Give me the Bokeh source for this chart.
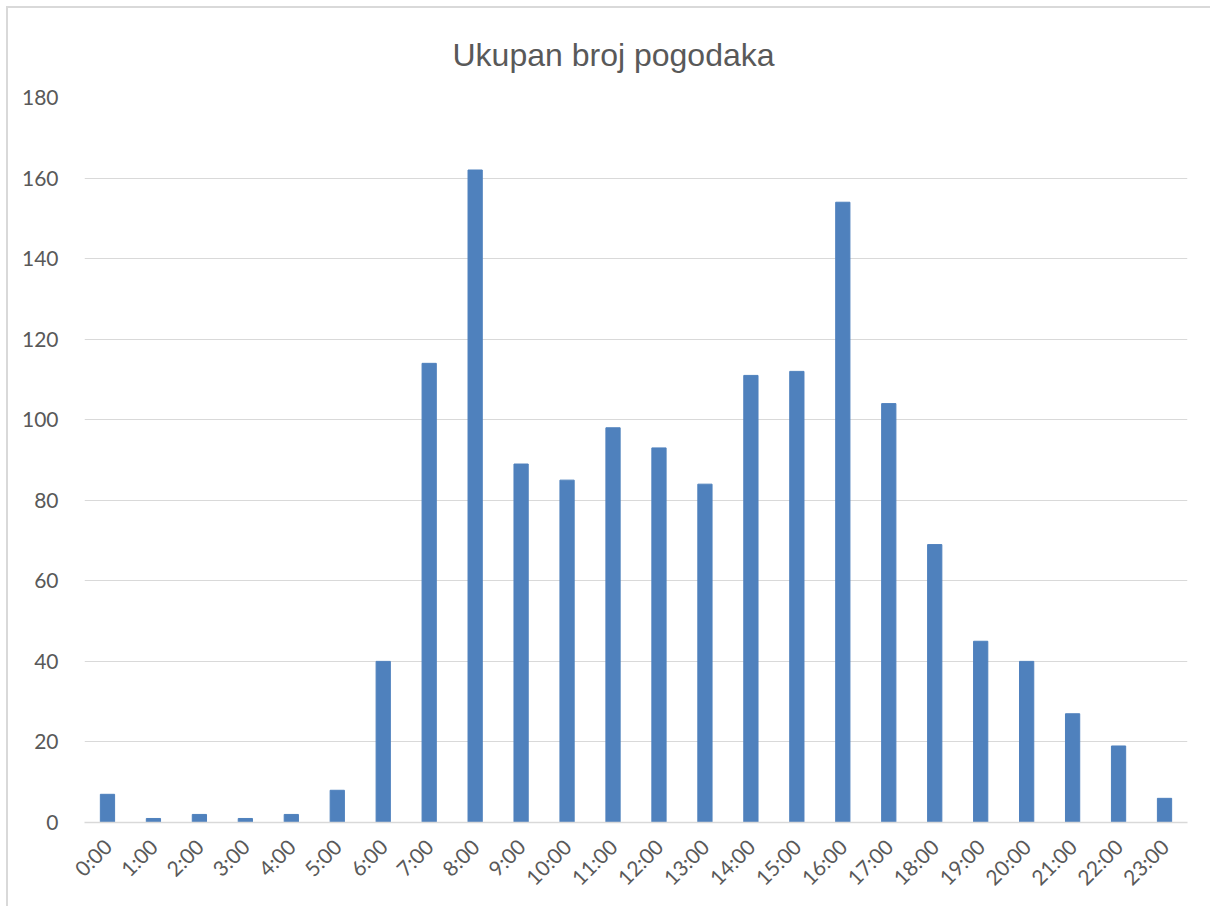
import math
from bokeh.plotting import figure
from bokeh.models import FactorRange, SingleIntervalTicker, Range1d
from bokeh.embed import file_html
from bokeh.resources import INLINE

hours = [f"{h}:00" for h in range(24)]
counts = [7, 1, 2, 1, 2, 8, 40, 114, 162, 89, 85, 98, 93, 84, 111, 112, 154, 104, 69, 45, 40, 27, 19, 6]
title_text = "Ukupan broj pogodaka"

FONT = "Lato"
GREY_TXT = "#595959"
GRID = "#d9d9d9"

W, H = 1204, 900
p = figure(x_range=FactorRange(*hours, range_padding=0), y_range=Range1d(0, 180),
           width=W, height=H, output_backend="svg", toolbar_location=None,
           min_border_left=76, min_border_right=25, min_border_top=89, min_border_bottom=86)

p.vbar(x=hours, top=counts, width=0.31, fill_color="#4f81bd", line_color="#4f81bd")

p.title.text = title_text
p.title.align = "left"
p.title.offset = 368
p.title.standoff = 50
p.title.text_font = "Liberation Sans"
p.title.text_font_size = "32px"
p.title.text_font_style = "normal"
p.title.text_color = GREY_TXT

p.outline_line_color = None
p.styles = {"margin-left": "6px", "margin-top": "6px",
            "border-left": "2px solid #d9d9d9", "border-top": "2px solid #d9d9d9"}

p.yaxis.ticker = SingleIntervalTicker(interval=20)
p.yaxis.axis_line_color = None
p.yaxis.major_tick_line_color = None
p.yaxis.minor_tick_line_color = None
p.yaxis.major_label_standoff = 20
p.yaxis.major_label_text_font = FONT
p.yaxis.major_label_text_font_size = "21px"
p.yaxis.major_label_text_color = GREY_TXT

p.xaxis.axis_line_color = GRID
p.xaxis.axis_line_width = 1.5
p.xaxis.major_tick_line_color = None
p.xaxis.minor_tick_line_color = None
p.xaxis.major_label_orientation = math.pi / 4
p.xaxis.major_label_standoff = 14
p.xaxis.major_label_text_font = FONT
p.xaxis.major_label_text_font_size = "21px"
p.xaxis.major_label_text_color = GREY_TXT

p.xgrid.grid_line_color = None
p.ygrid.grid_line_color = GRID
p.ygrid.grid_line_width = 1.2

open("out.html", "w").write(file_html(p, INLINE))
